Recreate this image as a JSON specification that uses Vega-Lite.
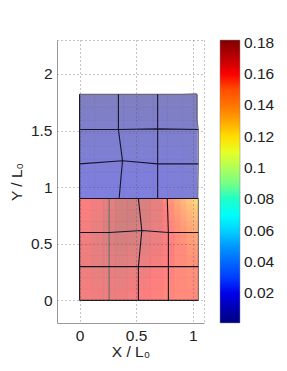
{"$schema":"https://vega.github.io/schema/vega-lite/v6.json","width":147,"height":283,"autosize":"none","padding":{"left":57,"top":40,"right":83,"bottom":48},"background":"white","config":{"view":{"stroke":null},"font":"Liberation Sans"},"datasets":{"cells":[
{"x":0,"x2":0.105,"y":0,"y2":0.1,"v":0.163},{"x":0.105,"x2":0.21,"y":0,"y2":0.1,"v":0.165},{"x":0.21,"x2":0.315,"y":0,"y2":0.1,"v":0.166},{"x":0.315,"x2":0.42,"y":0,"y2":0.1,"v":0.165},{"x":0.42,"x2":0.525,"y":0,"y2":0.1,"v":0.163},{"x":0.525,"x2":0.63,"y":0,"y2":0.1,"v":0.16},{"x":0.63,"x2":0.735,"y":0,"y2":0.1,"v":0.158},{"x":0.735,"x2":0.84,"y":0,"y2":0.1,"v":0.156},{"x":0.84,"x2":0.945,"y":0,"y2":0.1,"v":0.155},{"x":0.945,"x2":1.05,"y":0,"y2":0.1,"v":0.155},
{"x":0,"x2":0.105,"y":0.1,"y2":0.2,"v":0.164},{"x":0.105,"x2":0.21,"y":0.1,"y2":0.2,"v":0.166},{"x":0.21,"x2":0.315,"y":0.1,"y2":0.2,"v":0.167},{"x":0.315,"x2":0.42,"y":0.1,"y2":0.2,"v":0.167},{"x":0.42,"x2":0.525,"y":0.1,"y2":0.2,"v":0.165},{"x":0.525,"x2":0.63,"y":0.1,"y2":0.2,"v":0.162},{"x":0.63,"x2":0.735,"y":0.1,"y2":0.2,"v":0.159},{"x":0.735,"x2":0.84,"y":0.1,"y2":0.2,"v":0.157},{"x":0.84,"x2":0.945,"y":0.1,"y2":0.2,"v":0.155},{"x":0.945,"x2":1.05,"y":0.1,"y2":0.2,"v":0.154},
{"x":0,"x2":0.105,"y":0.2,"y2":0.3,"v":0.165},{"x":0.105,"x2":0.21,"y":0.2,"y2":0.3,"v":0.167},{"x":0.21,"x2":0.315,"y":0.2,"y2":0.3,"v":0.168},{"x":0.315,"x2":0.42,"y":0.2,"y2":0.3,"v":0.169},{"x":0.42,"x2":0.525,"y":0.2,"y2":0.3,"v":0.167},{"x":0.525,"x2":0.63,"y":0.2,"y2":0.3,"v":0.164},{"x":0.63,"x2":0.735,"y":0.2,"y2":0.3,"v":0.161},{"x":0.735,"x2":0.84,"y":0.2,"y2":0.3,"v":0.158},{"x":0.84,"x2":0.945,"y":0.2,"y2":0.3,"v":0.155},{"x":0.945,"x2":1.05,"y":0.2,"y2":0.3,"v":0.153},
{"x":0,"x2":0.105,"y":0.3,"y2":0.4,"v":0.165},{"x":0.105,"x2":0.21,"y":0.3,"y2":0.4,"v":0.168},{"x":0.21,"x2":0.315,"y":0.3,"y2":0.4,"v":0.17},{"x":0.315,"x2":0.42,"y":0.3,"y2":0.4,"v":0.171},{"x":0.42,"x2":0.525,"y":0.3,"y2":0.4,"v":0.169},{"x":0.525,"x2":0.63,"y":0.3,"y2":0.4,"v":0.166},{"x":0.63,"x2":0.735,"y":0.3,"y2":0.4,"v":0.163},{"x":0.735,"x2":0.84,"y":0.3,"y2":0.4,"v":0.159},{"x":0.84,"x2":0.945,"y":0.3,"y2":0.4,"v":0.155},{"x":0.945,"x2":1.05,"y":0.3,"y2":0.4,"v":0.152},
{"x":0,"x2":0.105,"y":0.4,"y2":0.5,"v":0.165},{"x":0.105,"x2":0.21,"y":0.4,"y2":0.5,"v":0.168},{"x":0.21,"x2":0.315,"y":0.4,"y2":0.5,"v":0.171},{"x":0.315,"x2":0.42,"y":0.4,"y2":0.5,"v":0.173},{"x":0.42,"x2":0.525,"y":0.4,"y2":0.5,"v":0.171},{"x":0.525,"x2":0.63,"y":0.4,"y2":0.5,"v":0.168},{"x":0.63,"x2":0.735,"y":0.4,"y2":0.5,"v":0.165},{"x":0.735,"x2":0.84,"y":0.4,"y2":0.5,"v":0.16},{"x":0.84,"x2":0.945,"y":0.4,"y2":0.5,"v":0.155},{"x":0.945,"x2":1.05,"y":0.4,"y2":0.5,"v":0.15},
{"x":0,"x2":0.105,"y":0.5,"y2":0.6,"v":0.164},{"x":0.105,"x2":0.21,"y":0.5,"y2":0.6,"v":0.168},{"x":0.21,"x2":0.315,"y":0.5,"y2":0.6,"v":0.172},{"x":0.315,"x2":0.42,"y":0.5,"y2":0.6,"v":0.174},{"x":0.42,"x2":0.525,"y":0.5,"y2":0.6,"v":0.173},{"x":0.525,"x2":0.63,"y":0.5,"y2":0.6,"v":0.17},{"x":0.63,"x2":0.735,"y":0.5,"y2":0.6,"v":0.166},
{"x":0,"x2":0.105,"y":0.6,"y2":0.7,"v":0.163},{"x":0.105,"x2":0.21,"y":0.6,"y2":0.7,"v":0.167},{"x":0.21,"x2":0.315,"y":0.6,"y2":0.7,"v":0.172},{"x":0.315,"x2":0.42,"y":0.6,"y2":0.7,"v":0.175},{"x":0.42,"x2":0.525,"y":0.6,"y2":0.7,"v":0.175},{"x":0.525,"x2":0.63,"y":0.6,"y2":0.7,"v":0.172},{"x":0.63,"x2":0.735,"y":0.6,"y2":0.7,"v":0.167},
{"x":0,"x2":0.105,"y":0.7,"y2":0.8,"v":0.162},{"x":0.105,"x2":0.21,"y":0.7,"y2":0.8,"v":0.166},{"x":0.21,"x2":0.315,"y":0.7,"y2":0.8,"v":0.171},{"x":0.315,"x2":0.42,"y":0.7,"y2":0.8,"v":0.175},{"x":0.42,"x2":0.525,"y":0.7,"y2":0.8,"v":0.176},{"x":0.525,"x2":0.63,"y":0.7,"y2":0.8,"v":0.173},{"x":0.63,"x2":0.735,"y":0.7,"y2":0.8,"v":0.168},
{"x":0,"x2":0.105,"y":0.8,"y2":0.9,"v":0.16},{"x":0.105,"x2":0.21,"y":0.8,"y2":0.9,"v":0.164},{"x":0.21,"x2":0.315,"y":0.8,"y2":0.9,"v":0.169},{"x":0.315,"x2":0.42,"y":0.8,"y2":0.9,"v":0.174},{"x":0.42,"x2":0.525,"y":0.8,"y2":0.9,"v":0.175},{"x":0.525,"x2":0.63,"y":0.8,"y2":0.9,"v":0.172},{"x":0.63,"x2":0.735,"y":0.8,"y2":0.9,"v":0.167},
{"x":0.735,"x2":0.7875,"y":0.5,"y2":0.6,"v":0.161},{"x":0.7875,"x2":0.84,"y":0.5,"y2":0.6,"v":0.158},{"x":0.84,"x2":0.8925,"y":0.5,"y2":0.6,"v":0.155},{"x":0.8925,"x2":0.945,"y":0.5,"y2":0.6,"v":0.152},{"x":0.945,"x2":0.9975,"y":0.5,"y2":0.6,"v":0.149},{"x":0.9975,"x2":1.05,"y":0.5,"y2":0.6,"v":0.146},
{"x":0.735,"x2":0.7875,"y":0.6,"y2":0.65,"v":0.161},{"x":0.7875,"x2":0.84,"y":0.6,"y2":0.65,"v":0.157},{"x":0.84,"x2":0.8925,"y":0.6,"y2":0.65,"v":0.153},{"x":0.8925,"x2":0.945,"y":0.6,"y2":0.65,"v":0.15},{"x":0.945,"x2":0.9975,"y":0.6,"y2":0.65,"v":0.146},{"x":0.9975,"x2":1.05,"y":0.6,"y2":0.65,"v":0.143},
{"x":0.735,"x2":0.7875,"y":0.65,"y2":0.7,"v":0.16},{"x":0.7875,"x2":0.84,"y":0.65,"y2":0.7,"v":0.156},{"x":0.84,"x2":0.8925,"y":0.65,"y2":0.7,"v":0.152},{"x":0.8925,"x2":0.945,"y":0.65,"y2":0.7,"v":0.148},{"x":0.945,"x2":0.9975,"y":0.65,"y2":0.7,"v":0.144},{"x":0.9975,"x2":1.05,"y":0.65,"y2":0.7,"v":0.141},
{"x":0.735,"x2":0.7875,"y":0.7,"y2":0.75,"v":0.16},{"x":0.7875,"x2":0.84,"y":0.7,"y2":0.75,"v":0.155},{"x":0.84,"x2":0.8925,"y":0.7,"y2":0.75,"v":0.151},{"x":0.8925,"x2":0.945,"y":0.7,"y2":0.75,"v":0.146},{"x":0.945,"x2":0.9975,"y":0.7,"y2":0.75,"v":0.142},{"x":0.9975,"x2":1.05,"y":0.7,"y2":0.75,"v":0.138},
{"x":0.735,"x2":0.7875,"y":0.75,"y2":0.8,"v":0.159},{"x":0.7875,"x2":0.84,"y":0.75,"y2":0.8,"v":0.154},{"x":0.84,"x2":0.8925,"y":0.75,"y2":0.8,"v":0.149},{"x":0.8925,"x2":0.945,"y":0.75,"y2":0.8,"v":0.144},{"x":0.945,"x2":0.9975,"y":0.75,"y2":0.8,"v":0.14},{"x":0.9975,"x2":1.05,"y":0.75,"y2":0.8,"v":0.135},
{"x":0.735,"x2":0.7875,"y":0.8,"y2":0.85,"v":0.158},{"x":0.7875,"x2":0.84,"y":0.8,"y2":0.85,"v":0.153},{"x":0.84,"x2":0.8925,"y":0.8,"y2":0.85,"v":0.147},{"x":0.8925,"x2":0.945,"y":0.8,"y2":0.85,"v":0.142},{"x":0.945,"x2":0.9975,"y":0.8,"y2":0.85,"v":0.137},{"x":0.9975,"x2":1.05,"y":0.8,"y2":0.85,"v":0.132},
{"x":0.735,"x2":0.7875,"y":0.85,"y2":0.9,"v":0.156},{"x":0.7875,"x2":0.84,"y":0.85,"y2":0.9,"v":0.151},{"x":0.84,"x2":0.8925,"y":0.85,"y2":0.9,"v":0.145},{"x":0.8925,"x2":0.945,"y":0.85,"y2":0.9,"v":0.14},{"x":0.945,"x2":0.9975,"y":0.85,"y2":0.9,"v":0.134},{"x":0.9975,"x2":1.05,"y":0.85,"y2":0.9,"v":0.128},
{"x":0,"x2":0.13,"y":0.9,"y2":1.015,"v":0.012},{"x":0.13,"x2":0.26,"y":0.9,"y2":1.015,"v":0.012},{"x":0.26,"x2":0.39,"y":0.9,"y2":1.015,"v":0.012},{"x":0.39,"x2":0.52,"y":0.9,"y2":1.015,"v":0.012},{"x":0.52,"x2":0.65,"y":0.9,"y2":1.015,"v":0.012},{"x":0.65,"x2":0.78,"y":0.9,"y2":1.015,"v":0.012},{"x":0.78,"x2":0.91,"y":0.9,"y2":1.015,"v":0.011},{"x":0.91,"x2":1.04,"y":0.9,"y2":1.015,"v":0.01},
{"x":0,"x2":0.13,"y":1.015,"y2":1.13,"v":0.011},{"x":0.13,"x2":0.26,"y":1.015,"y2":1.13,"v":0.011},{"x":0.26,"x2":0.39,"y":1.015,"y2":1.13,"v":0.011},{"x":0.39,"x2":0.52,"y":1.015,"y2":1.13,"v":0.011},{"x":0.52,"x2":0.65,"y":1.015,"y2":1.13,"v":0.011},{"x":0.65,"x2":0.78,"y":1.015,"y2":1.13,"v":0.011},{"x":0.78,"x2":0.91,"y":1.015,"y2":1.13,"v":0.01},{"x":0.91,"x2":1.04,"y":1.015,"y2":1.13,"v":0.009},
{"x":0,"x2":0.13,"y":1.13,"y2":1.245,"v":0.01},{"x":0.13,"x2":0.26,"y":1.13,"y2":1.245,"v":0.01},{"x":0.26,"x2":0.39,"y":1.13,"y2":1.245,"v":0.01},{"x":0.39,"x2":0.52,"y":1.13,"y2":1.245,"v":0.01},{"x":0.52,"x2":0.65,"y":1.13,"y2":1.245,"v":0.01},{"x":0.65,"x2":0.78,"y":1.13,"y2":1.245,"v":0.01},{"x":0.78,"x2":0.91,"y":1.13,"y2":1.245,"v":0.009},{"x":0.91,"x2":1.04,"y":1.13,"y2":1.245,"v":0.008},
{"x":0,"x2":0.13,"y":1.245,"y2":1.36,"v":0.0085},{"x":0.13,"x2":0.26,"y":1.245,"y2":1.36,"v":0.0085},{"x":0.26,"x2":0.39,"y":1.245,"y2":1.36,"v":0.0085},{"x":0.39,"x2":0.52,"y":1.245,"y2":1.36,"v":0.0085},{"x":0.52,"x2":0.65,"y":1.245,"y2":1.36,"v":0.0085},{"x":0.65,"x2":0.78,"y":1.245,"y2":1.36,"v":0.0085},{"x":0.78,"x2":0.91,"y":1.245,"y2":1.36,"v":0.008},{"x":0.91,"x2":1.04,"y":1.245,"y2":1.36,"v":0.007},
{"x":0,"x2":0.13,"y":1.36,"y2":1.475,"v":0.007},{"x":0.13,"x2":0.26,"y":1.36,"y2":1.475,"v":0.007},{"x":0.26,"x2":0.39,"y":1.36,"y2":1.475,"v":0.007},{"x":0.39,"x2":0.52,"y":1.36,"y2":1.475,"v":0.007},{"x":0.52,"x2":0.65,"y":1.36,"y2":1.475,"v":0.007},{"x":0.65,"x2":0.78,"y":1.36,"y2":1.475,"v":0.007},{"x":0.78,"x2":0.91,"y":1.36,"y2":1.475,"v":0.0065},{"x":0.91,"x2":1.04,"y":1.36,"y2":1.475,"v":0.006},
{"x":0,"x2":0.13,"y":1.475,"y2":1.59,"v":0.0055},{"x":0.13,"x2":0.26,"y":1.475,"y2":1.59,"v":0.0055},{"x":0.26,"x2":0.39,"y":1.475,"y2":1.59,"v":0.0055},{"x":0.39,"x2":0.52,"y":1.475,"y2":1.59,"v":0.0055},{"x":0.52,"x2":0.65,"y":1.475,"y2":1.59,"v":0.0055},{"x":0.65,"x2":0.78,"y":1.475,"y2":1.59,"v":0.0055},{"x":0.78,"x2":0.91,"y":1.475,"y2":1.59,"v":0.005},{"x":0.91,"x2":1.04,"y":1.475,"y2":1.59,"v":0.0045},
{"x":0,"x2":0.13,"y":1.59,"y2":1.705,"v":0.004},{"x":0.13,"x2":0.26,"y":1.59,"y2":1.705,"v":0.004},{"x":0.26,"x2":0.39,"y":1.59,"y2":1.705,"v":0.004},{"x":0.39,"x2":0.52,"y":1.59,"y2":1.705,"v":0.004},{"x":0.52,"x2":0.65,"y":1.59,"y2":1.705,"v":0.004},{"x":0.65,"x2":0.78,"y":1.59,"y2":1.705,"v":0.004},{"x":0.78,"x2":0.91,"y":1.59,"y2":1.705,"v":0.0035},{"x":0.91,"x2":1.04,"y":1.59,"y2":1.705,"v":0.003},
{"x":0,"x2":0.13,"y":1.705,"y2":1.82,"v":0.002},{"x":0.13,"x2":0.26,"y":1.705,"y2":1.82,"v":0.002},{"x":0.26,"x2":0.39,"y":1.705,"y2":1.82,"v":0.002},{"x":0.39,"x2":0.52,"y":1.705,"y2":1.82,"v":0.002},{"x":0.52,"x2":0.65,"y":1.705,"y2":1.82,"v":0.002},{"x":0.65,"x2":0.78,"y":1.705,"y2":1.82,"v":0.002},{"x":0.78,"x2":0.91,"y":1.705,"y2":1.82,"v":0.002},{"x":0.91,"x2":1.04,"y":1.705,"y2":1.82,"v":0.002}
],"mesh":[
{"id":"u0","k":"dark","o":0,"x":0,"y":0.905},{"id":"u0","k":"dark","o":1,"x":0,"y":1.82},
{"id":"u1","k":"dark","o":0,"x":0.35,"y":0.905},{"id":"u1","k":"dark","o":1,"x":0.379,"y":1.233},{"id":"u1","k":"dark","o":2,"x":0.343,"y":1.51},{"id":"u1","k":"dark","o":3,"x":0.343,"y":1.82},
{"id":"u2","k":"dark","o":0,"x":0.69,"y":0.905},{"id":"u2","k":"dark","o":1,"x":0.69,"y":1.206},{"id":"u2","k":"dark","o":2,"x":0.69,"y":1.51},{"id":"u2","k":"dark","o":3,"x":0.69,"y":1.82},
{"id":"u3","k":"soft","o":0,"x":1.045,"y":0.905},{"id":"u3","k":"soft","o":1,"x":1.05,"y":1.206},{"id":"u3","k":"soft","o":2,"x":1.05,"y":1.51},{"id":"u3","k":"soft","o":3,"x":1.037,"y":1.6},{"id":"u3","k":"soft","o":4,"x":1.037,"y":1.82},
{"id":"u4","k":"dark","o":0,"x":0,"y":1.206},{"id":"u4","k":"dark","o":1,"x":0.379,"y":1.233},{"id":"u4","k":"dark","o":2,"x":0.69,"y":1.206},{"id":"u4","k":"dark","o":3,"x":1.05,"y":1.206},
{"id":"u5","k":"dark","o":0,"x":0,"y":1.51},{"id":"u5","k":"dark","o":1,"x":0.343,"y":1.51},{"id":"u5","k":"dark","o":2,"x":0.69,"y":1.515},{"id":"u5","k":"dark","o":3,"x":1.05,"y":1.51},
{"id":"u6","k":"soft","o":0,"x":0,"y":1.82},{"id":"u6","k":"soft","o":1,"x":0.9,"y":1.82},{"id":"u6","k":"soft","o":2,"x":1.037,"y":1.825},
{"id":"l0","k":"dark","o":0,"x":0,"y":0},{"id":"l0","k":"dark","o":1,"x":0,"y":0.9},
{"id":"l1","k":"soft","o":0,"x":0.261,"y":0},{"id":"l1","k":"soft","o":1,"x":0.261,"y":0.6},{"id":"l1","k":"soft","o":2,"x":0.261,"y":0.9},
{"id":"l2","k":"dark","o":0,"x":0.52,"y":0},{"id":"l2","k":"dark","o":1,"x":0.52,"y":0.298},{"id":"l2","k":"dark","o":2,"x":0.55,"y":0.617},{"id":"l2","k":"dark","o":3,"x":0.52,"y":0.9},
{"id":"l3","k":"dark","o":0,"x":0.785,"y":0},{"id":"l3","k":"dark","o":1,"x":0.785,"y":0.6},{"id":"l3","k":"dark","o":2,"x":0.775,"y":0.9},
{"id":"l4","k":"soft","o":0,"x":1.05,"y":0},{"id":"l4","k":"soft","o":1,"x":1.05,"y":0.9},
{"id":"l5","k":"dark","o":0,"x":0,"y":0},{"id":"l5","k":"dark","o":1,"x":1.05,"y":0},
{"id":"l6","k":"dark","o":0,"x":0,"y":0.298},{"id":"l6","k":"dark","o":1,"x":1.05,"y":0.298},
{"id":"l7","k":"dark","o":0,"x":0,"y":0.6},{"id":"l7","k":"dark","o":1,"x":0.261,"y":0.6},{"id":"l7","k":"dark","o":2,"x":0.55,"y":0.617},{"id":"l7","k":"dark","o":3,"x":0.785,"y":0.6},{"id":"l7","k":"dark","o":4,"x":1.05,"y":0.6},
{"id":"l8","k":"dark","o":0,"x":0,"y":0.9},{"id":"l8","k":"dark","o":1,"x":1.05,"y":0.9}
]},
"layer":[
{"data":{"name":"cells"},"mark":{"type":"rect"},"encoding":{"x":{"field":"x","type":"quantitative","scale":{"domain":[-0.2,1.1],"nice":false,"zero":false},"axis":{"title":"X / L₀","values":[0,0.5,1,1.1],"format":"~g","labelExpr":"datum.value>1?'':datum.label","labelFontSize":15.5,"titleFontSize":15.5,"titleFontWeight":"normal","titleColor":"#222","labelColor":"#222","labelPadding":5,"titlePadding":1,"ticks":false,"grid":true,"gridColor":"#555","gridDash":[1,3],"gridOpacity":0.7,"domainColor":"#999","domainWidth":1,"zindex":1}},"x2":{"field":"x2"},"y":{"field":"y","type":"quantitative","scale":{"domain":[-0.2,2.3],"nice":false,"zero":false},"axis":{"title":"Y / L₀","values":[0,0.5,1,1.5,2,2.3],"format":"~g","labelExpr":"datum.value>2?'':datum.label","labelFontSize":15.5,"titleFontSize":15.5,"titleFontWeight":"normal","titleColor":"#222","labelColor":"#222","labelPadding":5,"titlePadding":6,"ticks":false,"grid":true,"gridColor":"#555","gridDash":[1,3],"gridOpacity":0.7,"domainColor":"#999","domainWidth":1,"zindex":1}},"y2":{"field":"y2"},"color":{"field":"v","type":"quantitative","scale":{"domain":[0.001,0.0236,0.0462,0.0688,0.0914,0.114,0.1365,0.1591,0.1817],"range":["#00007F","#0000FF","#007FFF","#00FFFF","#7FFF7F","#FFFF00","#FF7F00","#FF0000","#7F0000"]},"legend":{"type":"gradient","orient":"none","legendX":163,"legendY":0,"title":null,"gradientLength":283,"gradientThickness":20,"gradientStrokeColor":"#888","gradientStrokeWidth":0.5,"values":[0.02,0.04,0.06,0.08,0.1,0.12,0.14,0.16,0.18],"labelFontSize":15.5,"labelColor":"#222","labelOffset":4,"labelOverlap":false,"format":"~g"}}}},
{"data":{"name":"cells"},"mark":{"type":"rect","strokeWidth":0.6},"encoding":{"x":{"field":"x","type":"quantitative"},"x2":{"field":"x2"},"y":{"field":"y","type":"quantitative"},"y2":{"field":"y2"},"fill":{"field":"v","type":"quantitative","legend":null,"scale":{"domain":[0.00101,0.0236,0.0462,0.0688,0.0914,0.114,0.1365,0.1591,0.1817],"range":["#7F7FBF","#7F7FFF","#7FBFFF","#7FFFFF","#BFFFBF","#FFFF7F","#FFBF7F","#FF7F7F","#BF7F7F"]}},"stroke":{"field":"v","type":"quantitative","legend":null,"scale":{"domain":[0.00102,0.0236,0.0462,0.0688,0.0914,0.114,0.1365,0.1591,0.1817],"range":["#7F7FBF","#7F7FFF","#7FBFFF","#7FFFFF","#BFFFBF","#FFFF7F","#FFBF7F","#FF7F7F","#BF7F7F"]}}}},
{"data":{"name":"mesh"},"transform":[{"filter":"datum.k=='soft'"}],"mark":{"type":"line","color":"#666","strokeWidth":1},"encoding":{"x":{"field":"x","type":"quantitative"},"y":{"field":"y","type":"quantitative"},"detail":{"field":"id"},"order":{"field":"o"}}},
{"data":{"name":"mesh"},"transform":[{"filter":"datum.k=='dark'"}],"mark":{"type":"line","color":"#15152a","strokeWidth":1.1},"encoding":{"x":{"field":"x","type":"quantitative"},"y":{"field":"y","type":"quantitative"},"detail":{"field":"id"},"order":{"field":"o"}}}
]}
